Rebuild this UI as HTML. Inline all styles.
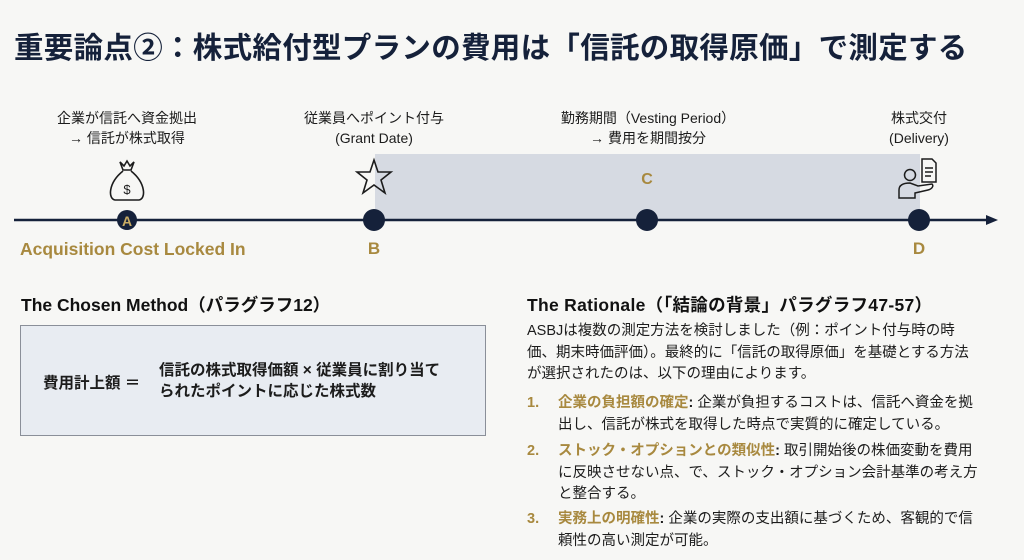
<!DOCTYPE html>
<html><head><meta charset="utf-8"><style>
body{margin:0;width:1024px;height:560px;background:#f7f7f5;position:relative;overflow:hidden;font-family:"Liberation Sans","Noto Sans CJK JP",sans-serif;color:#1c1c1c}
.a{position:absolute;white-space:nowrap}
.c{text-align:center;transform:translateX(-50%)}
.lbl{font-size:14px;line-height:20px}
.gold{color:#a8893f;font-weight:bold}
.p{font-size:14.5px;line-height:21.5px}
</style></head><body>
<div class="a" style="left:14px;top:25px;font-size:29.5px;font-weight:bold;color:#15213a;letter-spacing:0.3px">重要論点②：株式給付型プランの費用は「信託の取得原価」で測定する</div>

<div class="a" style="left:375px;top:154px;width:545px;height:66px;background:#d6dae2"></div>
<svg class="a" style="left:0;top:0" width="1024" height="280">
<line x1="14" y1="220" x2="990" y2="220" stroke="#15213a" stroke-width="2.5"/>
<polygon points="998,220 986,215 986,225" fill="#15213a"/>
<circle cx="127" cy="220" r="10" fill="#15213a"/>
<text x="127" y="226" text-anchor="middle" font-family="Liberation Sans" font-weight="bold" font-size="14" fill="#c8ab63">A</text>
<circle cx="374" cy="220" r="11" fill="#15213a"/>
<circle cx="647" cy="220" r="11" fill="#15213a"/>
<circle cx="919" cy="220" r="11" fill="#15213a"/>
<g fill="none" stroke="#1c1c1c" stroke-width="1.6">
<path d="M120 162 L124 166 L127 161 L130 166 L134 162 L131 170 L123 170 Z"/>
<path d="M123 171 C108 183 108 199 115 200 L139 200 C146 199 146 183 131 171"/>
</g>
<text x="127" y="194" text-anchor="middle" font-size="13" font-family="Liberation Sans" fill="#1c1c1c">$</text>
<polygon points="374,160 378,172 391,172 381,180 385,193 374,185 363,193 367,180 357,172 370,172" fill="none" stroke="#1c1c1c" stroke-width="1.6"/>
<g fill="none" stroke="#1c1c1c" stroke-width="1.5">
<circle cx="910" cy="175" r="5.5"/>
<path d="M899 198 L899 190 C899 184 905 183 910 183 L918 186 L932 184 C934 186 932 189 928 190 L915 193 L915 198 Z"/>
<path d="M922 159 L932 159 L936 163 L936 182 L922 182 Z"/>
<line x1="925" y1="168" x2="933" y2="168"/><line x1="925" y1="172" x2="933" y2="172"/><line x1="925" y1="176" x2="931" y2="176"/>
</g>
</svg>
<div class="a c lbl" style="left:127px;top:108px">企業が信託へ資金拠出<br>→ 信託が株式取得</div>
<div class="a c lbl" style="left:374px;top:108px">従業員へポイント付与<br>(Grant Date)</div>
<div class="a c lbl" style="left:648px;top:108px">勤務期間（Vesting Period）<br>→ 費用を期間按分</div>
<div class="a c lbl" style="left:919px;top:108px">株式交付<br>(Delivery)</div>
<div class="a c gold" style="left:647px;top:171px;font-size:16px">C</div>
<div class="a gold" style="left:20px;top:239px;font-size:17.5px">Acquisition Cost Locked In</div>
<div class="a c gold" style="left:374px;top:239px;font-size:17px">B</div>
<div class="a c gold" style="left:919px;top:239px;font-size:17px">D</div>

<div class="a" style="left:21px;top:292px;font-size:17.5px;font-weight:bold;color:#111">The Chosen Method（パラグラフ12）</div>
<div class="a" style="left:20px;top:325px;width:466px;height:111px;background:#e8ecf2;border:1px solid #8a8f99;box-sizing:border-box"></div>
<div class="a" style="left:43px;top:371px;font-size:15.5px;font-weight:bold">費用計上額 ＝</div>
<div class="a" style="left:159px;top:360px;font-size:15.5px;font-weight:bold;line-height:21px">信託の株式取得価額 × 従業員に割り当て<br>られたポイントに応じた株式数</div>

<div class="a" style="left:527px;top:292px;font-size:17.5px;font-weight:bold;color:#111;letter-spacing:0.3px">The Rationale（「結論の背景」パラグラフ47-57）</div>
<div class="a p" style="left:527px;top:321px">ASBJは複数の測定方法を検討しました（例：ポイント付与時の時<br>価、期末時価評価）。最終的に「信託の取得原価」を基礎とする方法<br>が選択されたのは、以下の理由によります。</div>
<div class="a p gold" style="left:527px;top:393px">1.</div>
<div class="a p" style="left:558px;top:393px"><span class="gold">企業の負担額の確定</span><b>:</b> 企業が負担するコストは、信託へ資金を拠<br>出し、信託が株式を取得した時点で実質的に確定している。</div>
<div class="a p gold" style="left:527px;top:441px">2.</div>
<div class="a p" style="left:558px;top:441px"><span class="gold">ストック・オプションとの類似性</span><b>:</b> 取引開始後の株価変動を費用<br>に反映させない点、で、ストック・オプション会計基準の考え方<br>と整合する。</div>
<div class="a p gold" style="left:527px;top:509px">3.</div>
<div class="a p" style="left:558px;top:509px"><span class="gold">実務上の明確性</span><b>:</b> 企業の実際の支出額に基づくため、客観的で信<br>頼性の高い測定が可能。</div>
</body></html>
